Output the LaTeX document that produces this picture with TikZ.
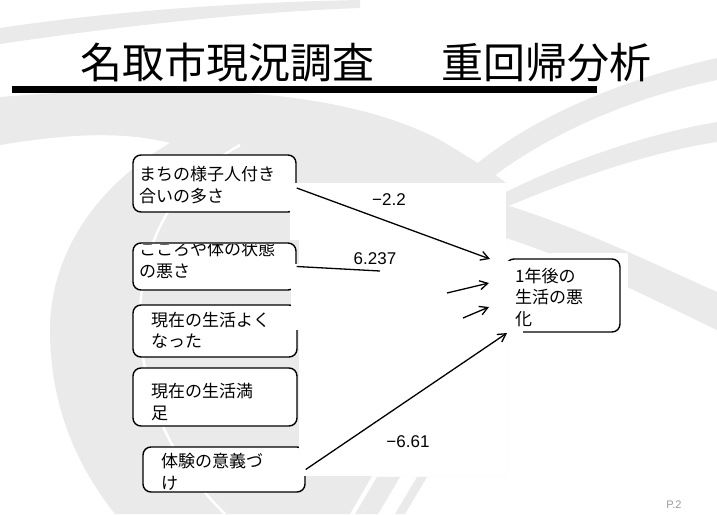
\documentclass[tikz,border=0pt]{standalone}
\usepackage{fontspec}
\setmainfont{Liberation Sans}
\newfontfamily\jp{Noto Sans CJK JP}
\usetikzlibrary{arrows.meta}
\definecolor{bandgray}{HTML}{EAEAEA}
\definecolor{pagegray}{HTML}{9A9A9A}
\begin{document}
\begin{tikzpicture}[x=1pt,y=-1pt,
  box/.style={draw=black, line width=1.4pt, rounded corners=8pt, fill=white, inner sep=0pt},
  jtxt/.style={font=\jp\fontsize{17}{21.5}\selectfont, align=left, inner sep=0pt, anchor=west},
  num/.style={font=\fontsize{17}{20}\selectfont, inner sep=0pt},
  conn/.style={line width=1.3pt, -{Straight Barb[length=8pt,width=9pt,line width=1.3pt]}},
  seg/.style={line width=1.3pt},
  cover/.style={fill=white, draw=none},
  band/.style={fill=bandgray, draw=none}]
\useasboundingbox (0,0) rectangle (717,514);
\fill[white] (0,0) rectangle (717,514);
% background swooshes
\fill[band] (0,28) .. controls (120,10) and (250,2) .. (360,0) -- (360,8) .. controls (250,12) and (120,26) .. (0,44) -- cycle;
\fill[band] (0,97) .. controls (150,85) and (330,82) .. (440,140) .. controls (470,158) and (490,170) .. (506,183) -- (506,476) -- (372,476) -- (350,514) -- (115,514) .. controls (80,470) and (50,410) .. (50,330) .. controls (50,260) and (90,190) .. (170,143) .. controls (120,130) and (60,135) .. (0,145) -- cycle;
\draw[white, line width=2.5pt] (240,145) .. controls (160,190) and (138,260) .. (140,330) .. controls (145,400) and (170,460) .. (225,514);
\fill[band] (717,58) .. controls (620,80) and (520,120) .. (455,183) -- (485,183) .. controls (545,135) and (630,98) .. (717,80) -- cycle;
\fill[band] (717,122) .. controls (640,135) and (560,165) .. (506,192) -- (506,207) .. controls (570,180) and (650,152) .. (717,142) -- cycle;
\fill[band] (506,205) .. controls (580,228) and (650,262) .. (717,292) -- (717,330) .. controls (650,298) and (580,262) .. (506,238) -- cycle;
\fill[band] (355,514) -- (377,477) -- (400,477) -- (378,514) -- cycle;
\fill[band] (395,514) -- (417,477) -- (427,477) -- (405,514) -- cycle;
% title
\node[font=\jp\fontsize{42}{42}\selectfont, anchor=west, inner sep=0pt] (title) at (80,63) {名取市現況調査\hspace{67pt}重回帰分析};
\fill[black] (12,86) rectangle (597,93);
% source boxes
\node[box, minimum width=163pt, minimum height=57pt] (b1) at (214.5,183.5) {};
\node[box, minimum width=163pt, minimum height=47pt] (b2) at (214.5,266.5) {};
\node[box, minimum width=164pt, minimum height=52pt] (b3) at (215,331) {};
\node[box, minimum width=164pt, minimum height=58pt] (b4) at (215,397) {};
\node[box, minimum width=162pt, minimum height=45pt] (b5) at (224,469.5) {};
% white frames lying over the boxes
\fill[cover] (290,183) rectangle (506,240);
\fill[cover] (299,240) rectangle (506,264);
\fill[cover] (291,264) rectangle (506,330);
\fill[cover] (299,330) rectangle (506,476);
% target box
\fill[cover] (500,253) rectangle (628,337);
\node[box, minimum width=114pt, minimum height=73pt] (tg) at (563,295.5) {};
\fill[cover] (500,261) rectangle (523,338);
% texts
\node[jtxt] (t1) at (139,185) {まちの様子人付き\\合いの多さ};
\begin{scope}
  \clip (130,244.6) rectangle (300,300);
  \node[jtxt] (t2) at (139,260) {こころや体の状態\\の悪さ};
\end{scope}
\node[jtxt] (t3) at (151,330.5) {現在の生活よく\\なった};
\node[jtxt] (t4) at (151,402) {現在の生活満\\足};
\node[jtxt] (t5) at (161,472) {体験の意義づ\\け};
\node[jtxt] (tt) at (515,297) {1年後の\\生活の悪\\化};
% connectors
\coordinate (e1) at (490,259);
\coordinate (e2) at (380,271);
\coordinate (s3) at (447,293);
\coordinate (h3) at (489,283);
\coordinate (s4) at (463,318);
\coordinate (h4) at (489,307);
\coordinate (e5) at (507,333);
\draw[conn] ([yshift=-4.5pt]b1.east) -- (e1);
\draw[seg] (b2.east) -- (e2);
\draw[conn] (s3) -- (h3);
\draw[conn] (s4) -- (h4);
\draw[conn] (b5.east) -- (e5);
% coefficient labels
\node[num] (l1) at (389,200) {−2.2};
\node[num] (l2) at (375,259) {6.237};
\node[num] (l3) at (408,442) {−6.61};
\node[font=\fontsize{11}{12}\selectfont, text=pagegray, inner sep=0pt] (pg) at (674,505) {P.2};
\end{tikzpicture}
\end{document}
